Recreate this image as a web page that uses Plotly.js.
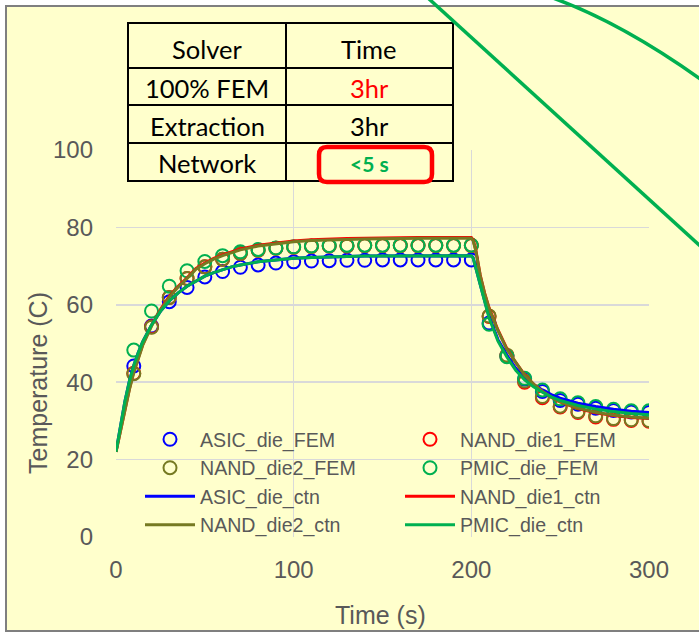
<!DOCTYPE html>
<html><head><meta charset="utf-8">
<script src="https://cdn.plot.ly/plotly-3.0.1.min.js"></script>
<style>html,body{margin:0;padding:0;background:#fff}#chart{width:699px;height:633px}</style>
</head><body><div id="chart"></div>
<script>
// FEM sample times (s)
const femTime = [10,20,30,40,50,60,70,80,90,100,110,120,130,140,150,160,170,180,190,200,210,220,230,240,250,260,270,280,290,300];
const asicFem  = [44.2,54.5,60.8,64.5,67.2,68.6,69.7,70.3,70.8,71.1,71.3,71.4,71.5,71.5,71.6,71.6,71.6,71.6,71.6,71.6,55.3,46.8,40.8,37.6,35.3,34.3,33.3,32.7,32.3,32.2];
const nand1Fem = [42.3,54.3,61.9,66.8,69.8,71.8,73.3,74.1,74.6,74.9,75.1,75.2,75.2,75.3,75.3,75.3,75.3,75.3,75.3,75.3,57.0,46.8,40.0,36.0,33.6,32.2,31.0,30.4,30.1,29.9];
const nand2Fem = [42.2,54.2,61.9,66.8,69.8,71.8,73.3,74.1,74.6,74.9,75.1,75.2,75.2,75.3,75.3,75.3,75.3,75.3,75.3,75.4,57.1,47.0,40.3,36.3,33.8,32.4,31.3,30.6,30.3,30.1];
const pmicFem  = [48.3,58.4,64.8,68.8,71.2,72.7,73.7,74.3,74.7,75.0,75.2,75.3,75.4,75.4,75.4,75.4,75.4,75.4,75.4,75.4,55.0,46.6,41.0,38.0,35.7,34.7,33.7,33.0,32.6,32.6];

// Compact thermal network (ctn) times (s)
const ctnTime = [0,2.5,5,7.5,10,12.5,15,20,25,30,35,40,45,50,55,60,65,70,80,90,100,110,120,130,140,150,160,170,180,190,200,201,202.5,205,207.5,210,212.5,215,220,225,230,235,240,245,250,260,270,280,290,300];
const asicCtn  = [22,29,35,40.2,44.3,47.6,50.4,54.8,58.3,61,63.1,64.8,66.2,67.4,68.3,69.1,69.8,70.3,71.1,71.6,72,72.2,72.4,72.5,72.6,72.6,72.7,72.7,72.7,72.7,72.7,72.2,69.8,65.3,61,57,54,51,47,43.6,41.2,39.4,38,36.8,35.9,34.6,33.7,33,32.5,32.2];
const nand1Ctn = [22,27.7,33.2,38.2,42.7,46.5,49.7,54.7,58.8,62.2,64.8,67,69.4,70.8,72,72.9,73.7,74.4,75.4,76,76.5,76.8,77,77.1,77.2,77.3,77.3,77.4,77.4,77.4,77.4,76.8,74.2,67.7,63,59.2,56.2,53.5,48.7,45.1,41.9,39.5,37.6,36.1,34.9,33.2,32.1,31.4,30.9,30.6];
const nand2Ctn = [22,27.5,33,38,42.5,46.3,49.5,54.5,58.6,62,64.6,66.8,69.2,70.6,71.8,72.7,73.5,74.2,75.2,75.8,76.3,76.6,76.8,76.9,77,77.1,77.1,77.2,77.2,77.2,77.2,76.6,74,67.5,62.8,59,56,53.3,48.5,45,41.8,39.5,37.6,36.1,34.9,33.3,32.2,31.5,31,30.7];
const pmicCtn  = [22,29,35,40.2,44.3,47.6,50.4,54.8,58.3,61,63.1,64.8,66.2,67.4,68.3,69.1,69.8,70.3,71.1,71.6,72,72.2,72.4,72.5,72.6,72.6,72.7,72.7,72.7,72.7,72.7,72.1,69.6,65,60.6,56.6,53.6,50.6,46.5,43.1,40.6,38.8,37.4,36.2,35.3,34,33.1,32.4,31.9,31.6];

const tableRows = [["Solver","Time"],["100% FEM","3hr"],["Extraction","3hr"],["Network","<5 s"]];
const xTicks = [0,100,200,300];
const yTicks = [0,20,40,60,80,100];

const C = {asic:'#0000FF', nand1:'#FF0000', nand2:'#767A22', pmic:'#00B050'};
const FONT = 'Liberation Sans, Arial, sans-serif';
const TFONT = 'Lato, Calibri, sans-serif';

// pixel -> paper helpers for decorations
const L=116, R=649, T=150, B=537;
const px = x => (x-L)/(R-L);
const py = y => (B-y)/(B-T);

function fem(name, y, color){
  return {type:'scatter', mode:'markers', name, x:femTime, y,
    marker:{symbol:'circle-open', size:13, line:{width:2, color}, color}};
}
function ctn(name, y, color){
  return {type:'scatter', mode:'lines', name, x:ctnTime, y, line:{color, width:3}};
}
const data = [
  fem('ASIC_die_FEM', asicFem, C.asic),
  fem('NAND_die1_FEM', nand1Fem, C.nand1),
  fem('NAND_die2_FEM', nand2Fem, C.nand2),
  fem('PMIC_die_FEM', pmicFem, C.pmic),
  ctn('ASIC_die_ctn', asicCtn, C.asic),
  ctn('NAND_die1_ctn', nand1Ctn, C.nand1),
  ctn('NAND_die2_ctn', nand2Ctn, C.nand2),
  ctn('PMIC_die_ctn', pmicCtn, C.pmic)
];

const shapes = [];
// outer frame
shapes.push({type:'rect', xref:'paper', yref:'paper', layer:'below',
  x0:px(6), x1:px(730), y0:py(631), y1:py(6), fillcolor:'#FFFFCC', line:{color:'#7F7F7F', width:2}});
// table
const tx = [128,286,453], ty = [23,68,105,143,181];
shapes.push({type:'rect', xref:'paper', yref:'paper', x0:px(tx[0]), x1:px(tx[2]), y0:py(ty[4]), y1:py(ty[0]),
  fillcolor:'#FFFFCC', line:{color:'#000', width:2}});
for (let i=1;i<4;i++) shapes.push({type:'line', xref:'paper', yref:'paper', x0:px(tx[0]), x1:px(tx[2]), y0:py(ty[i]), y1:py(ty[i]), line:{color:'#000', width:2}});
shapes.push({type:'line', xref:'paper', yref:'paper', x0:px(tx[1]), x1:px(tx[1]), y0:py(ty[0]), y1:py(ty[4]), line:{color:'#000', width:2}});
// red rounded box
(function(){
  const x0=319,x1=432,y0=147,y1=182,r=8;
  const p = (x,y)=> px(x)+','+py(y);
  const d = 'M'+p(x0+r,y0)+' L'+p(x1-r,y0)+' Q'+p(x1,y0)+' '+p(x1,y0+r)+' L'+p(x1,y1-r)+' Q'+p(x1,y1)+' '+p(x1-r,y1)+
            ' L'+p(x0+r,y1)+' Q'+p(x0,y1)+' '+p(x0,y1-r)+' L'+p(x0,y0+r)+' Q'+p(x0,y0)+' '+p(x0+r,y0)+' Z';
  shapes.push({type:'path', xref:'paper', yref:'paper', path:d, line:{color:'#FF0000', width:4.5}});
  // green callout lines
  shapes.push({type:'line', xref:'paper', yref:'paper', x0:px(428), y0:py(-2), x1:px(710), y1:py(255), line:{color:'#00B050', width:3.5}});
  shapes.push({type:'path', xref:'paper', yref:'paper', path:'M'+p(553,-2)+' Q'+p(625,24)+' '+p(710,86), line:{color:'#00B050', width:3.5}});
})();

const annotations = [];
const colC = [207,369], rowC = [49,88,126,163];
tableRows.forEach((row,i)=>{
  row.forEach((txt,j)=>{
    let color='#000', size=25.5, t=txt;
    if (i===1 && j===1) color='#FF0000';
    if (i===3 && j===1) {color='#00B050'; size=21; t='<b>'+txt.replace('<','&lt;')+'</b>';}
    annotations.push({xref:'paper', yref:'paper', x:px(colC[j]), y:py(rowC[i]), text:t, showarrow:false,
      xanchor:'center', yanchor:'middle', font:{family:TFONT, size, color}});
  });
});
annotations.push({xref:'paper', yref:'paper', x:px(38), y:py(383), text:'Temperature (C)', textangle:-90, showarrow:false,
  xanchor:'center', yanchor:'middle', font:{family:FONT, size:25, color:'#595959'}});
annotations.push({xref:'paper', yref:'paper', x:px(380), y:py(615), text:'Time (s)', showarrow:false,
  xanchor:'center', yanchor:'middle', font:{family:FONT, size:25, color:'#595959'}});

const layout = {
  width:699, height:633,
  margin:{l:L, r:699-R, t:T, b:633-B, autoexpand:false},
  paper_bgcolor:'#FFFFFF', plot_bgcolor:'rgba(0,0,0,0)',
  showlegend:true,
  legend:{orientation:'h', x:px(140), y:py(420), xanchor:'left', yanchor:'top', bgcolor:'rgba(0,0,0,0)',
    font:{family:FONT, size:19.6, color:'#595959'}, entrywidth:195, itemwidth:50, traceorder:'normal'},
  xaxis:{range:[0,300], tickvals:xTicks, ticktext:xTicks.map(String), showgrid:true, gridcolor:'#D9D9D9', gridwidth:1.5,
    zeroline:false, showline:false, ticks:'', ticklabelstandoff:16, tickfont:{family:FONT, size:24, color:'#595959'}, fixedrange:true},
  yaxis:{range:[0,100], tickvals:yTicks, ticktext:yTicks.map(String), showgrid:true, gridcolor:'#D9D9D9', gridwidth:1.5,
    zeroline:false, showline:false, ticks:'', ticklabelstandoff:22, tickfont:{family:FONT, size:24, color:'#595959'}, fixedrange:true},
  shapes, annotations
};
Plotly.newPlot('chart', data, layout, {displayModeBar:false, staticPlot:true});
</script></body></html>
